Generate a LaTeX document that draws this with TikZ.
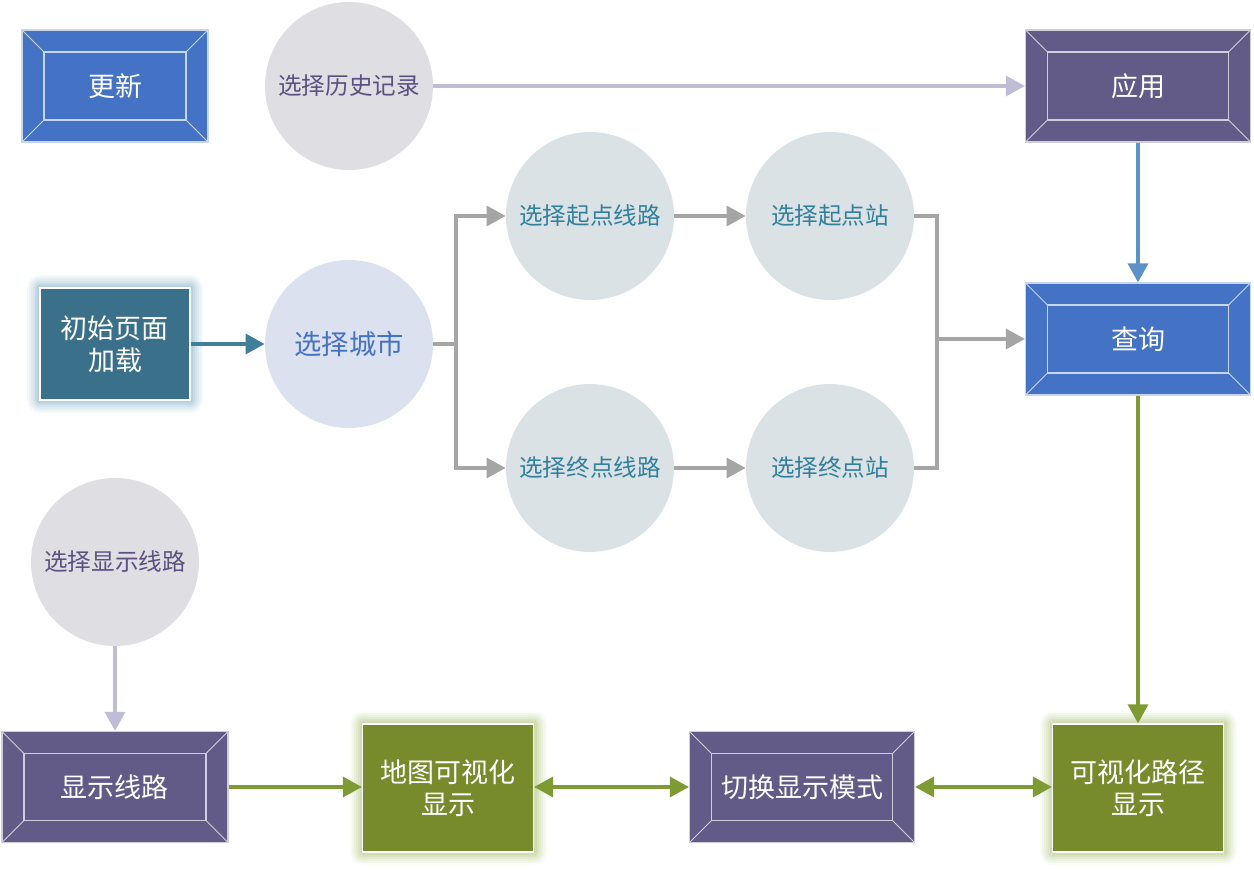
\documentclass[tikz,border=0pt]{standalone}
\usepackage{fontspec}
\newfontfamily\cjk{Noto Sans CJK SC}
\usetikzlibrary{arrows.meta}
\definecolor{blu}{HTML}{4472C4}
\definecolor{pur}{HTML}{625A87}
\definecolor{tea}{HTML}{3A7089}
\definecolor{grn}{HTML}{778B2D}
\definecolor{cgr}{HTML}{DFDEE3}
\definecolor{cbl}{HTML}{DCE1EF}
\definecolor{cst}{HTML}{DBE2E6}
\definecolor{tpur}{HTML}{5B5080}
\definecolor{tst}{HTML}{31809B}
\definecolor{lgry}{HTML}{A5A5A5}
\definecolor{lpur}{HTML}{BFBCD6}
\definecolor{lblu}{HTML}{5B93C9}
\definecolor{ltea}{HTML}{3F7F99}
\definecolor{lgrn}{HTML}{7E9A33}
\definecolor{gtea}{HTML}{8DB6CA}
\definecolor{ggrn}{HTML}{B3C884}

\begin{document}
\begin{tikzpicture}[x=0.5pt, y=-0.5pt,
  bevel/.style={rectangle, fill=#1, draw=white!70!#1, line width=.6pt, text=white, inner sep=0pt,
    font=\cjk\fontsize{13.5}{16}\selectfont, minimum width=112.5pt, minimum height=56pt,
    path picture={
      \draw[white!70!#1, line width=.6pt] ([shift={(11pt,-11pt)}]path picture bounding box.north west) rectangle ([shift={(-11pt,11pt)}]path picture bounding box.south east);
      \draw[white!70!#1, line width=.5pt] (path picture bounding box.north west) -- ++(11pt,-11pt);
      \draw[white!70!#1, line width=.5pt] (path picture bounding box.north east) -- ++(-11pt,-11pt);
      \draw[white!70!#1, line width=.5pt] (path picture bounding box.south west) -- ++(11pt,11pt);
      \draw[white!70!#1, line width=.5pt] (path picture bounding box.south east) -- ++(-11pt,11pt);}},
  glow/.style={preaction={draw=#1, line width=13pt, opacity=.08, line join=round},
    preaction={draw=#1, line width=11pt, opacity=.1, line join=round},
    preaction={draw=#1, line width=9pt, opacity=.12, line join=round},
    preaction={draw=#1, line width=7pt, opacity=.15, line join=round},
    preaction={draw=#1, line width=5pt, opacity=.2, line join=round},
    preaction={draw=#1, line width=3pt, opacity=.25, line join=round}},
  gbox/.style={rectangle, fill=#1, draw=white, line width=.6pt, text=white, align=center, inner sep=0pt,
    font=\cjk\fontsize{13.5}{16}\selectfont, minimum width=85.5pt, minimum height=64pt},
  circ/.style={circle, fill=#1, minimum size=84pt, inner sep=0pt, font=\cjk\fontsize{11.8}{14}\selectfont},
  ar/.style={-{Triangle[length=9.5pt, width=10pt]}, line width=1.7pt, draw=#1},
  dar/.style={{Triangle[length=9.5pt, width=10pt]}-{Triangle[length=9.5pt, width=10pt]}, line width=1.7pt, draw=#1},
  ln/.style={line width=1.7pt, draw=#1, line join=miter}]
\useasboundingbox (0,0) rectangle (1254,870);
% top row
\node[bevel=blu, minimum width=93pt] (upd) at (115,86) {更新};
\node[circ=cgr, text=tpur] (hist) at (349,86) {选择历史记录};
\node[bevel=pur] (app) at (1138,86) {应用};
% query branch
\node[gbox=tea, glow=gtea, minimum width=75pt, minimum height=56pt] (load) at (115,344) {初始页面\\加载};
\node[circ=cbl, text=blu, font=\cjk\fontsize{13.7}{16}\selectfont] (city) at (349,344) {选择城市};
\node[circ=cst, text=tst] (sline) at (590,216) {选择起点线路};
\node[circ=cst, text=tst] (sstn) at (830,216) {选择起点站};
\node[circ=cst, text=tst] (eline) at (590,468) {选择终点线路};
\node[circ=cst, text=tst] (estn) at (830,468) {选择终点站};
\node[bevel=blu] (qry) at (1138,339) {查询};
\coordinate (fork) at (456,344);
\coordinate (join) at (937,339);
% display row
\node[circ=cgr, text=tpur] (disp) at (115,562) {选择显示线路};
\node[bevel=pur, minimum width=113pt, minimum height=55.5pt] (show) at (115,787) {显示线路};
\node[gbox=grn, glow=ggrn] (map) at (448,788) {地图可视化\\显示};
\node[bevel=pur, minimum height=55.5pt] (mode) at (802,787) {切换显示模式};
\node[gbox=grn, glow=ggrn] (route) at (1138,788) {可视化路径\\显示};
% connectors
\draw[ar=lpur] (hist) -- (app); \draw[ar=lblu] (app) -- (qry);
\draw[ar=ltea] (load) -- (city);
\draw[ln=lgry] (city) -- (fork);
\draw[ar=lgry] (fork) |- (sline); \draw[ar=lgry] (fork) |- (eline);
\draw[ar=lgry] (sline) -- (sstn); \draw[ar=lgry] (eline) -- (estn);
\draw[ln=lgry] (sstn) -| (join); \draw[ln=lgry] (estn) -| (join);
\draw[ar=lgry] (join) -- (qry);
\draw[ar=lgrn] (qry) -- (route);
\draw[ar=lpur] (disp) -- (show);
\draw[ar=lgrn] (show) -- (map.west |- show);
\draw[dar=lgrn] (map.east |- mode) -- (mode); \draw[dar=lgrn] (mode) -- (route.west |- mode);
\end{tikzpicture}
\end{document}
